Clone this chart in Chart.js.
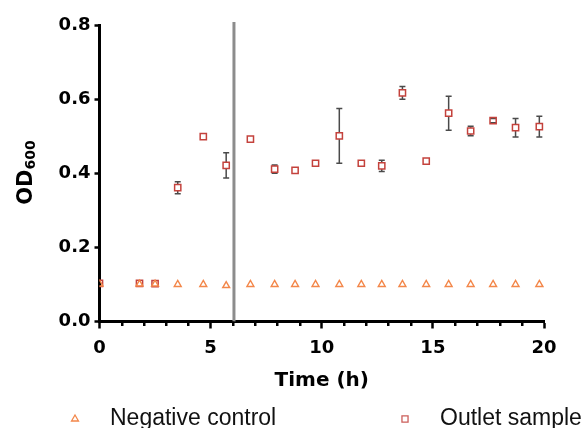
<!DOCTYPE html>
<html>
<head>
<meta charset="utf-8">
<script src="https://cdn.jsdelivr.net/npm/chart.js@4/dist/chart.umd.min.js"></script>
<style>
  html, body { margin: 0; padding: 0; background: #fff; }
  #wrap { width: 584px; height: 428px; }
</style>
</head>
<body>
<div id="wrap"><canvas id="c" width="584" height="428"></canvas></div>
<script>
// Sampling times (h)
const times = [0, 1.8, 2.5, 3.52, 4.67, 5.70, 6.79, 7.88, 8.80, 9.72, 10.79, 11.78, 12.70, 13.63, 14.70, 15.71, 16.70, 17.71, 18.72, 19.79];
// OD600 of the outlet samples (mean) and their standard deviation
const outletOD = [0.103, 0.103, 0.102, 0.361, 0.499, 0.421, 0.492, 0.411, 0.408, 0.427, 0.501, 0.427, 0.420, 0.617, 0.433, 0.562, 0.514, 0.542, 0.523, 0.526];
const outletSD = [0, 0, 0, 0.016, 0, 0.034, 0, 0.011, 0, 0, 0.074, 0, 0.015, 0.017, 0, 0.046, 0.013, 0.006, 0.025, 0.028];
// OD600 of the negative control
const controlOD = [0.101, 0.101, 0.101, 0.100, 0.100, 0.097, 0.100, 0.100, 0.100, 0.100, 0.100, 0.100, 0.100, 0.100, 0.100, 0.100, 0.100, 0.100, 0.100, 0.100];
// Time at which the vertical reference line is drawn
const markerTime = 6.05;
// Axis tick labels
const xTickLabels = ['0', '5', '10', '15', '20'];
const yTickLabels = ['0.0', '0.2', '0.4', '0.6', '0.8'];
const seriesNames = ['Negative control', 'Outlet sample'];

const CONTROL_COLOR = '#f3874a';
const OUTLET_COLOR = '#c4423c';
const BOLD = 'DejaVu Sans';

const toPoints = (ys) => times.map((t, i) => ({ x: t, y: ys[i] }));

// Reference line, error bars and minor x ticks
const decorations = {
  id: 'decorations',
  beforeDatasetsDraw(chart) {
    const { ctx, chartArea, scales: { x, y } } = chart;
    ctx.save();
    // vertical reference line
    const lx = x.getPixelForValue(markerTime);
    ctx.strokeStyle = '#8c8c8c';
    ctx.lineWidth = 3;
    ctx.beginPath();
    ctx.moveTo(lx, chartArea.top - 3);
    ctx.lineTo(lx, chartArea.bottom);
    ctx.stroke();

    // error bars for outlet samples
    ctx.strokeStyle = '#4a4a4a';
    ctx.lineWidth = 1.5;
    const half = 3.2;
    times.forEach((t, i) => {
      const sd = outletSD[i];
      if (!sd) return;
      const px = x.getPixelForValue(t);
      const yc = y.getPixelForValue(outletOD[i]);
      const yt = y.getPixelForValue(outletOD[i] + sd);
      const yb = y.getPixelForValue(outletOD[i] - sd);
      ctx.beginPath();
      if (yt < yc - half) { ctx.moveTo(px, yt); ctx.lineTo(px, yc - half); }
      if (yb > yc + half) { ctx.moveTo(px, yc + half); ctx.lineTo(px, yb); }
      ctx.moveTo(px - 3, yt); ctx.lineTo(px + 3, yt);
      ctx.moveTo(px - 3, yb); ctx.lineTo(px + 3, yb);
      ctx.stroke();
    });

    // minor ticks on the time axis
    ctx.strokeStyle = '#000';
    ctx.lineWidth = 2.5;
    ctx.beginPath();
    for (let t = x.min; t <= x.max; t++) {
      if (t % 5 === 0) continue;
      const px = Math.round(x.getPixelForValue(t)) + 0.25;
      ctx.moveTo(px, chartArea.bottom);
      ctx.lineTo(px, chartArea.bottom + 4.5);
    }
    ctx.stroke();
    ctx.restore();
  }
};

// Y title with subscript and bottom legend
const labelsPlugin = {
  id: 'labelsPlugin',
  afterDraw(chart) {
    const { ctx } = chart;
    ctx.save();
    // y axis title: OD600 (subscript)
    ctx.fillStyle = '#000';
    ctx.textBaseline = 'alphabetic';
    ctx.textAlign = 'left';
    ctx.font = `bold 21px "${BOLD}"`;
    const wMain = ctx.measureText('OD').width;
    ctx.font = `bold 14px "${BOLD}"`;
    const wSub = ctx.measureText('600').width;
    const total = wMain + wSub;
    ctx.translate(31.5, 172.5);
    ctx.rotate(-Math.PI / 2);
    ctx.font = `bold 21px "${BOLD}"`;
    ctx.fillText('OD', -total / 2, 0);
    ctx.font = `bold 14px "${BOLD}"`;
    ctx.fillText('600', -total / 2 + wMain, 3);
    ctx.restore();

    // legend
    ctx.save();
    const items = [
      { x: 75, tx: 110, style: 'triangle', color: CONTROL_COLOR, r: 4 },
      { x: 405, tx: 440, style: 'rect', color: '#cc5e5a', r: 4.3 }
    ];
    const ly = 419;
    items.forEach((it, i) => {
      ctx.strokeStyle = it.color;
      ctx.fillStyle = 'rgba(0,0,0,0)';
      ctx.lineWidth = 1.3;
      Chart.helpers.drawPoint(ctx, { pointStyle: it.style, radius: it.r, borderWidth: 1.3, rotation: 0 }, it.x, ly);
      ctx.fillStyle = '#111';
      ctx.font = '23px "Liberation Sans"';
      ctx.textBaseline = 'middle';
      ctx.textAlign = 'left';
      ctx.fillText(seriesNames[i], it.tx, ly);
    });
    ctx.restore();
  }
};

new Chart(document.getElementById('c'), {
  type: 'scatter',
  data: {
    datasets: [
      {
        label: seriesNames[0],
        data: toPoints(controlOD),
        pointStyle: 'triangle',
        pointRadius: 4,
        borderWidth: 1.4,
        borderColor: CONTROL_COLOR,
        backgroundColor: 'rgba(0,0,0,0)'
      },
      {
        label: seriesNames[1],
        data: toPoints(outletOD),
        pointStyle: 'rect',
        pointRadius: 4.4,
        borderWidth: 1.5,
        borderColor: OUTLET_COLOR,
        backgroundColor: 'rgba(0,0,0,0)'
      }
    ]
  },
  options: {
    responsive: false,
    animation: false,
    events: [],
    layout: { padding: { top: 25, right: 40, bottom: 35, left: 0 } },
    plugins: { legend: { display: false }, tooltip: { enabled: false } },
    scales: {
      x: {
        type: 'linear',
        min: 0,
        max: 20,
        afterFit: (s) => { s.height = 71.5; },
        border: { display: true, color: '#000', width: 3 },
        grid: {
          drawOnChartArea: false,
          drawTicks: true,
          tickLength: 7,
          tickWidth: 2.5,
          tickColor: (c) => (c.tick && c.tick.value % 5 === 0 ? '#000' : 'rgba(0,0,0,0)')
        },
        ticks: {
          stepSize: 1,
          autoSkip: false,
          maxRotation: 0,
          padding: 9,
          color: '#000',
          font: { family: BOLD, size: 18, weight: 'bold' },
          callback: (v) => (v % 5 === 0 ? xTickLabels[v / 5] : '')
        },
        title: {
          display: true,
          text: 'Time (h)',
          color: '#000',
          font: { family: BOLD, size: 20, weight: 'bold' },
          padding: { top: 0, bottom: 0 }
        }
      },
      y: {
        min: 0,
        max: 0.8,
        afterFit: (s) => { s.width = 99.5; },
        border: { display: true, color: '#000', width: 3 },
        grid: {
          drawOnChartArea: false,
          drawTicks: true,
          tickLength: 5,
          tickWidth: 2.5,
          tickColor: '#000'
        },
        ticks: {
          stepSize: 0.2,
          padding: 4,
          color: '#000',
          font: { family: BOLD, size: 18, weight: 'bold' },
          callback: (v) => yTickLabels[Math.round(v / 0.2)]
        }
      }
    }
  },
  plugins: [decorations, labelsPlugin]
});
</script>
</body>
</html>
